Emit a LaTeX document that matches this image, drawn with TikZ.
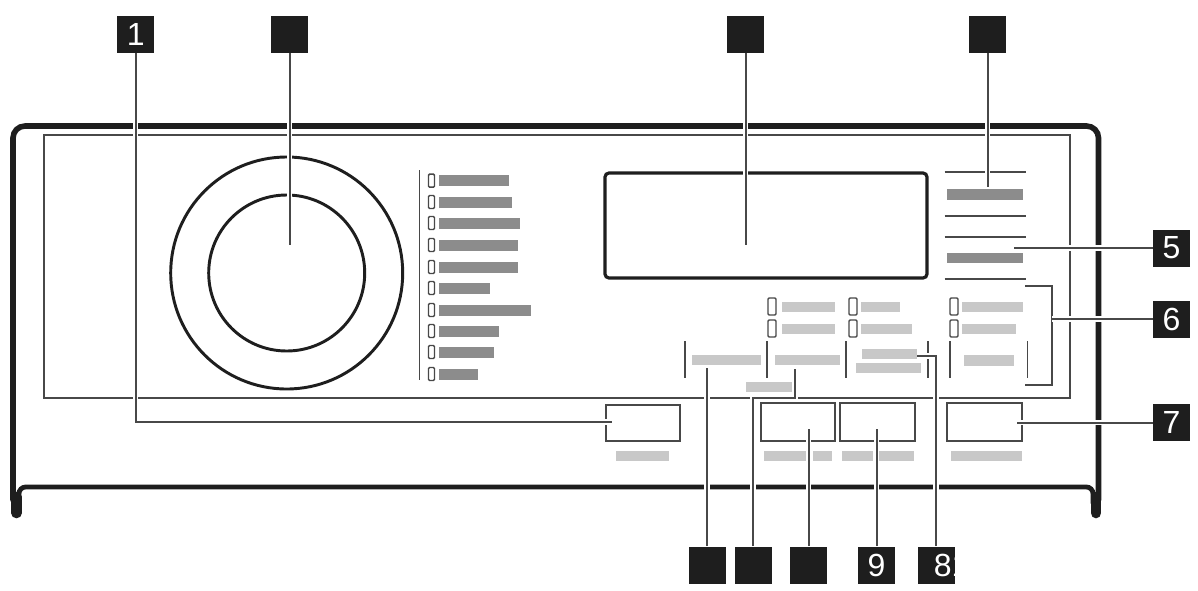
\documentclass[tikz,border=0pt]{standalone}
\usepackage{fontspec}
\setmainfont{Liberation Sans}
\definecolor{ink}{HTML}{1E1E1E}
\definecolor{linegray}{HTML}{484848}
\definecolor{bardark}{HTML}{8C8C8C}
\definecolor{barlight}{HTML}{C8C8C8}
\tikzset{
  x=0.75pt,y=-0.75pt,
  tag/.style={draw=none,fill=ink,text=white,minimum width=27.75pt,minimum height=27.75pt,inner sep=0pt,font=\fontsize{24}{24}\selectfont},
  leader/.style={draw=linegray,line width=1.5pt,preaction={draw=white,line width=4pt}},
  shell/.style={draw=ink,line width=4.2pt,line cap=round},
  leg/.style={draw=ink,line width=8pt,line cap=round},
  panel/.style={draw=linegray,line width=1.2pt},
  thin/.style={draw=ink,line width=1.6pt},
  rule/.style={draw=linegray,line width=1.4pt},
  led/.style={draw=linegray,line width=1.1pt,rounded corners=0.8pt},
  bd/.style={fill=bardark,draw=none},
  bl/.style={fill=barlight,draw=none},
  btn/.style={draw=linegray,line width=1.5pt},
}
\begin{document}
\begin{tikzpicture}
\useasboundingbox (0,0) rectangle (1198,590);
\fill[white] (0,0) rectangle (1198,590);
% shell
\draw[shell,rounded corners=9pt] (13,500) -- (13,126) -- (1098.5,126) -- (1098.5,500);
\draw[leg] (16.5,497) -- (16.5,513);
\draw[leg] (1096,497) -- (1096,513);
\draw[shell,line width=3.6pt,rounded corners=5pt] (19,503) -- (19,487) -- (1093,487) -- (1093,503);
% panel
\draw[panel] (44,135) rectangle (1070,398);
% knob
\draw[thin,line width=2.2pt] (286.7,273) circle[radius=116];
\draw[thin,line width=2.2pt] (286.7,273) circle[radius=78];
% list
\draw[rule] (419.5,170) -- (419.5,380);
\foreach \yy/\xe in {180.7/509,202/512,223/520,245/518,267/518,288/490,310/531,331/499,352/494,374/478}{
  \draw[led] (428.5,\yy-6.5) rectangle (434.5,\yy+6.5);
  \fill[bd] (439,\yy-5.5) rectangle (\xe,\yy+5.5);
}
% display
\draw[thin,line width=2.4pt,rounded corners=3pt] (605,173) rectangle (927,278);
% right rules
\foreach \yy in {172,216,237,279}{\draw[rule] (944.5,\yy) -- (1026,\yy);}
\fill[bd] (947,189) rectangle (1023,200);
\fill[bd] (947,253) rectangle (1023,263);
% leds lower
\foreach \xx/\yy in {768/298,768/320,849/298,849/320,950/298,950/320}{
  \draw[led] (\xx,\yy) rectangle (\xx+8,\yy+17);
}
\fill[bl] (781.5,302) rectangle (835,312);
\fill[bl] (781.5,324) rectangle (835,334);
\fill[bl] (861,302) rectangle (900,312);
\fill[bl] (861,324) rectangle (912,334);
\fill[bl] (962,302) rectangle (1023,312);
\fill[bl] (962,324) rectangle (1016,334);
% ticks
\foreach \xx in {685.4,766.7,846.4,927.6,949.7,1027.5}{\draw[rule] (\xx,341) -- (\xx,378);}
\fill[bl] (691.5,355) rectangle (761,365);
\fill[bl] (774.7,355) rectangle (839.5,365);
\fill[bl] (862.4,349) rectangle (916.5,359);
\fill[bl] (855.5,363) rectangle (921,373);
\fill[bl] (964,355) rectangle (1014,366);
\fill[bl] (745.7,382) rectangle (791.5,392);
% buttons
\draw[btn] (606,405) rectangle (680,441);
\draw[btn] (761,403) rectangle (835,441);
\draw[btn] (840,403) rectangle (915.4,441);
\draw[btn] (947,403) rectangle (1022,441);
\fill[bl] (615.7,450.7) rectangle (669,460.7);
\fill[bl] (764,450.7) rectangle (806,460.7);
\fill[bl] (813,450.7) rectangle (832,460.7);
\fill[bl] (842,450.7) rectangle (873,460.7);
\fill[bl] (879,450.7) rectangle (914,460.7);
\fill[bl] (951,450.7) rectangle (1022,460.7);
% bracket
\draw[rule] (1025,286) -- (1052,286) -- (1052,385) -- (1025,385);
% tags
\node[tag] (n1) at (135.8,34.5) {1};
\node[tag] (n2) at (289.5,34.5) {};
\node[tag] (n3) at (745.5,34.5) {};
\node[tag] (n4) at (987.5,34.5) {};
\node[tag] (n5) at (1171.5,248) {5};
\node[tag] (n6) at (1171.5,319) {6};
\node[tag] (n7) at (1171.5,422.5) {7};
\node[tag] (na) at (707,565) {};
\node[tag] (nb) at (753,565) {};
\node[tag] (nc) at (808.5,565) {};
\node[tag] (n9) at (876.5,565) {9};
\node[tag,path picture={\node[text=white,font=\fontsize{24}{24}\selectfont,anchor=west,inner sep=0pt] (t8) at ([xshift=11.5pt]path picture bounding box.west) {81};}] (n8) at (936,565) {};
% ends
\coordinate (e1) at (612,422);
\coordinate (e2) at (289.5,245);
\coordinate (e3) at (745.5,245);
\coordinate (e4) at (987.5,187);
\coordinate (e5) at (1014,248);
\coordinate (e6) at (1052,319);
\coordinate (e7) at (1016.5,422.5);
\coordinate (ea) at (707,368);
\coordinate (eb) at (795,369);
\coordinate (ec) at (808.5,429);
\coordinate (e9) at (876.5,429);
\coordinate (e8) at (917.3,356);
% leaders
\draw[leader] (n1.south) |- (e1);
\draw[leader] (n2.south) -- (e2);
\draw[leader] (n3.south) -- (e3);
\draw[leader] (n4.south) -- (e4);
\draw[leader] (n5.west) -- (e5);
\draw[leader] (n6.west) -- (e6);
\draw[leader] (n7.west) -- (e7);
\draw[leader] (na.north) -- (ea);
\draw[leader] (nb.north) |- (795,398) -- (eb);
\draw[leader] (nc.north) -- (ec);
\draw[leader] (n9.north) -- (e9);
\draw[leader] (n8.north) |- (e8);
\end{tikzpicture}
\end{document}
